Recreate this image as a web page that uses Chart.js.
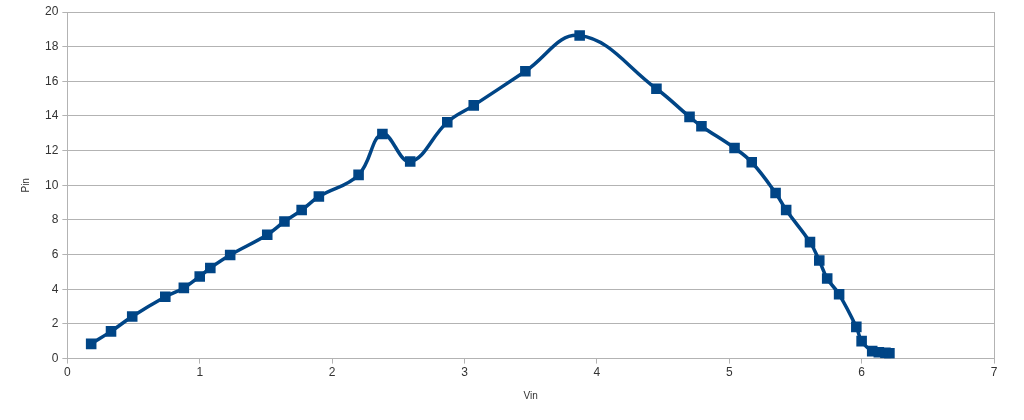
<!DOCTYPE html>
<html>
<head>
<meta charset="utf-8">
<script src="https://cdn.jsdelivr.net/npm/chart.js@4/dist/chart.umd.min.js"></script>
<style>
  html, body { margin: 0; padding: 0; background: #fff; }
  #wrap { width: 1024px; height: 420px; }
</style>
</head>
<body>
<div id="wrap"><canvas id="pvChart"></canvas></div>
<script>
// values
const vin = [0.18, 0.33, 0.49, 0.74, 0.88, 1.00, 1.08, 1.23, 1.51, 1.64, 1.77, 1.90,
  2.20, 2.38, 2.59, 2.87, 3.07, 3.46, 3.87, 4.45, 4.70, 4.79, 5.04, 5.17,
  5.35, 5.43, 5.61, 5.68, 5.74, 5.83, 5.96, 6.00, 6.08, 6.13, 6.18, 6.21];
const pin = [0.85, 1.57, 2.43, 3.57, 4.08, 4.74, 5.23, 5.98, 7.15, 7.91, 8.57, 9.35,
  10.6, 12.96, 11.37, 13.64, 14.61, 16.58, 18.64, 15.57, 13.95, 13.41, 12.15, 11.33,
  9.56, 8.57, 6.72, 5.66, 4.62, 3.71, 1.83, 1.01, 0.43, 0.37, 0.33, 0.30];

const gridGrey = '#b3b3b3';
const textColor = '#333333';

const points = vin.map((v, i) => ({ x: v, y: pin[i] }));

new Chart(document.getElementById('pvChart').getContext('2d'), {
  type: 'scatter',
  data: {
    datasets: [{
      label: 'Pin',
      data: points,
      showLine: true,
      borderColor: '#004586',
      backgroundColor: '#004586',
      borderWidth: 3.5,
      tension: 0.4,
      pointStyle: 'rect',
      pointRadius: 5,
      pointHoverRadius: 5
    }]
  },
  options: {
    responsive: true,
    maintainAspectRatio: false,
    animation: false,
    layout: { padding: { left: 16, right: 30, top: 12, bottom: 14 } },
    plugins: {
      legend: { display: false },
      tooltip: { enabled: false }
    },
    scales: {
      x: {
        type: 'linear',
        min: 0,
        max: 7,
        ticks: { stepSize: 1, color: textColor, font: { family: 'Liberation Sans', size: 12 }, padding: 2 },
        grid: {
          color: ctx => (ctx.tick && ctx.tick.value === 7 ? gridGrey : 'transparent'),
          tickColor: gridGrey,
          tickLength: 5
        },
        border: { color: gridGrey },
        title: { display: true, text: 'Vin', color: textColor, font: { family: 'Liberation Sans', size: 10 }, padding: { top: 8 } }
      },
      y: {
        min: 0,
        max: 20,
        ticks: { stepSize: 2, color: textColor, font: { family: 'Liberation Sans', size: 12 }, padding: 4 },
        grid: { color: gridGrey, tickColor: gridGrey, tickLength: 5 },
        border: { color: gridGrey },
        title: { display: true, text: 'Pin', color: textColor, font: { family: 'Liberation Sans', size: 10 }, padding: { bottom: 9 } }
      }
    }
  }
});
</script>
</body>
</html>
